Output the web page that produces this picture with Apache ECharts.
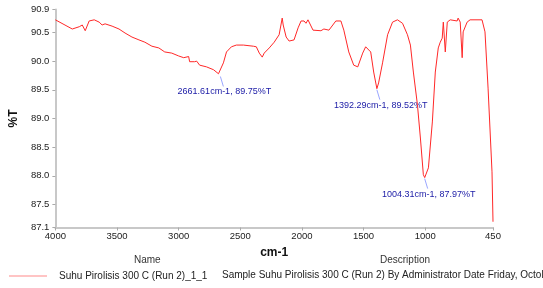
<!DOCTYPE html>
<html>
<head>
	<meta charset="utf-8">
	<title>FTIR Suhu Pirolisis 300 C</title>
	<script src="https://cdn.jsdelivr.net/npm/echarts@6/dist/echarts.min.js"></script>
	<style>body{margin:0;background:#fff}</style>
</head>
<body>
	<div id="main" style="width: 543px;height: 288px"></div>
	<script type="text/javascript">
		// spectrum: wavenumber (cm-1), %T
		var waveNumbers = [4000, 3863, 3806, 3782, 3758, 3726, 3685, 3645, 3621, 3597, 3540, 3484, 3435, 3379, 3322, 3274, 3217, 3161, 3113, 3056, 3000, 2959, 2919, 2911, 2871, 2854, 2830, 2774, 2717, 2677, 2661,
			2637, 2612, 2572, 2532, 2475, 2394, 2370, 2346, 2322, 2306, 2265, 2225, 2185, 2160, 2152, 2128, 2104, 2064, 2031, 2007, 1983, 1967, 1951, 1910, 1846, 1822, 1781, 1725, 1684,
			1660, 1620, 1580, 1547, 1507, 1483, 1442, 1418, 1392, 1378, 1346, 1305, 1265, 1225, 1184, 1144, 1120, 1096, 1063, 1039, 1015, 1004, 974, 942, 918, 894, 878, 862, 853,
			837, 821, 797, 741, 733, 716, 700, 692, 660, 636, 539, 515, 490, 458, 450];
		var transmittance = [90.72, 90.56, 90.60, 90.63, 90.53, 90.70, 90.72, 90.68, 90.63, 90.65, 90.61, 90.56, 90.49, 90.42, 90.37, 90.33, 90.26, 90.23, 90.16, 90.14, 90.09, 90.06, 90.08, 89.99, 89.99, 90.00, 89.93, 89.90, 89.85, 89.78, 89.75,
			89.97, 90.16, 90.25, 90.28, 90.28, 90.26, 90.25, 90.14, 90.07, 90.14, 90.23, 90.33, 90.46, 90.75, 90.63, 90.42, 90.35, 90.37, 90.58, 90.70, 90.70, 90.66, 90.72, 90.54, 90.53, 90.56, 90.54, 90.70, 90.70,
			90.54, 90.16, 89.93, 89.90, 90.14, 90.25, 90.16, 89.81, 89.52, 89.62, 89.97, 90.46, 90.68, 90.72, 90.66, 90.46, 90.28, 89.81, 89.24, 88.66, 88.02, 87.97, 88.14, 88.94, 89.81, 90.23, 90.33, 90.40, 90.68,
			90.16, 90.68, 90.72, 90.70, 90.75, 90.68, 90.06, 90.51, 90.68, 90.72, 90.72, 90.51, 89.53, 88.07, 87.20];
		var peakX = [2661.61, 1392.29, 1004.31];
		var peakY = [89.75, 89.52, 87.97];
		var xTicks = [4000, 3500, 3000, 2500, 2000, 1500, 1000, 450];
		var yTicks = [87.1, 87.5, 88.0, 88.5, 89.0, 89.5, 90.0, 90.5, 90.9];
		var seriesName = 'Suhu Pirolisis 300 C (Run 2)_1_1';
		var seriesDesc = 'Sample Suhu Pirolisis 300 C (Run 2) By Administrator Date Friday, October';

		var font = 'Liberation Sans, Arial, sans-serif';
		var spectrum = waveNumbers.map(function (w, i) { return [w, transmittance[i]]; });
		var peaks = peakX.map(function (w, i) { return [w, peakY[i]]; });

		var myChart = echarts.init(document.getElementById('main'));
		var option = {
			backgroundColor: '#fff',
			animation: false,
			grid: {left: 53, right: 50, top: 9.5, bottom: 60.5},
			xAxis: {
				type: 'value',
				inverse: true,
				min: 450,
				max: 4000,
				name: 'cm-1',
				nameLocation: 'middle',
				nameGap: 9,
				nameTextStyle: {fontFamily: font, fontSize: 12, fontWeight: 'bold', color: '#111'},
				splitLine: {show: false},
				axisLine: {lineStyle: {color: '#c8c8c8', width: 2}},
				axisTick: {customValues: xTicks, length: 3, lineStyle: {color: '#aaa'}},
				axisLabel: {
					customValues: xTicks, margin: 4, fontFamily: font, fontSize: 9.5, color: '#222',
					formatter: function (v) { return String(v); }
				}
			},
			yAxis: {
				type: 'value',
				min: 87.1,
				max: 90.9,
				name: '%T',
				nameLocation: 'middle',
				nameGap: 30,
				nameTextStyle: {fontFamily: font, fontSize: 12, fontWeight: 'bold', color: '#111'},
				splitLine: {show: false},
				axisLine: {show: true, lineStyle: {color: '#c8c8c8', width: 2}},
				axisTick: {show: true, customValues: yTicks, length: 3, lineStyle: {color: '#aaa'}},
				axisLabel: {
					customValues: yTicks, margin: 6, fontFamily: font, fontSize: 9.5, color: '#222',
					formatter: function (v) { return v.toFixed(1); }
				}
			},
			legend: {
				left: 4,
				top: 266,
				icon: 'rect',
				itemWidth: 38,
				itemHeight: 1.5,
				itemGap: 0,
				itemStyle: {color: '#ffb0b0'},
				textStyle: {fontFamily: font, fontSize: 10, color: '#222', padding: [0, 0, 0, 7]},
				data: [seriesName]
			},
			graphic: [
				{type: 'text', left: 134, top: 255, style: {text: 'Name', font: '10px ' + font, fill: '#333'}},
				{type: 'text', left: 380, top: 255, style: {text: 'Description', font: '10px ' + font, fill: '#333'}},
				{type: 'text', left: 222, top: 270, style: {text: seriesDesc, font: '10px ' + font, fill: '#222'}}
			],
			series: [
				{
					name: seriesName,
					type: 'line',
					data: spectrum,
					showSymbol: false,
					lineStyle: {color: '#ff2828', width: 1},
					itemStyle: {color: '#ff2828'}
				},
				{
					// peak labels with a short leader line
					type: 'custom',
					data: peaks,
					renderItem: function (params, api) {
						var p = api.coord([api.value(0), api.value(1)]);
						var txt = api.value(0).toFixed(2) + 'cm-1, ' + api.value(1).toFixed(2) + '%T';
						return {
							type: 'group',
							children: [
								{type: 'line', shape: {x1: p[0], y1: p[1] + 1, x2: p[0] + 3, y2: p[1] + 11}, style: {stroke: '#9aa6ff', lineWidth: 1}},
								{type: 'text', x: p[0] + 4, y: p[1] + 12, style: {text: txt, font: '9px ' + font, fill: '#1a1aa6', align: 'center', verticalAlign: 'top'}}
							]
						};
					}
				}
			]
		};
		myChart.setOption(option);
	</script>
</body>
</html>
